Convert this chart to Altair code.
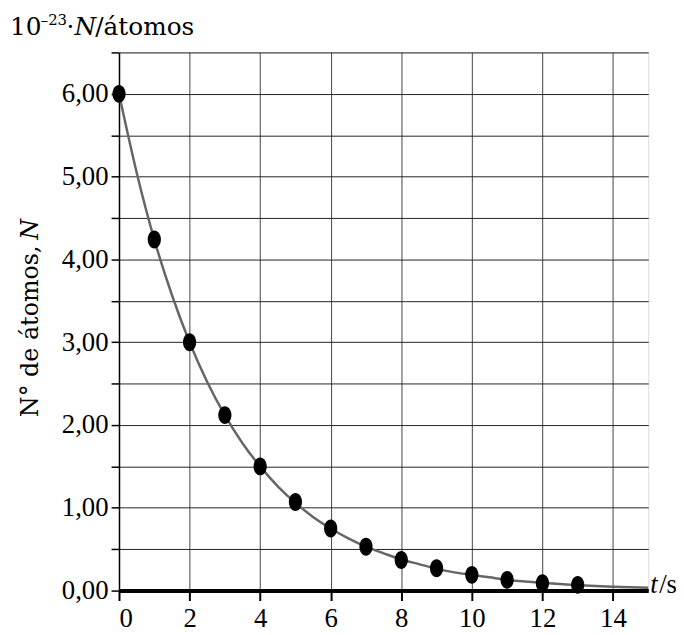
import altair as alt
import pandas as pd

# measured points (t in s, N in 10^23 atoms)
t_points = [0, 1, 2, 3, 4, 5, 6, 7, 8, 9, 10, 11, 12, 13]
n_points = [6.00, 4.24, 3.00, 2.12, 1.50, 1.07, 0.75, 0.53, 0.37, 0.27, 0.19, 0.13, 0.09, 0.07]

# fitted curve
t_curve = [0, 0.5, 1, 1.5, 2, 2.5, 3, 3.5, 4, 4.5, 5, 5.5, 6, 6.5, 7, 7.5, 8, 8.5,
           9, 9.5, 10, 10.5, 11, 11.5, 12, 12.5, 13, 13.5, 14, 14.5, 15]
n_curve = [6.00, 5.05, 4.24, 3.57, 3.00, 2.52, 2.12, 1.78, 1.50, 1.26, 1.06, 0.89,
           0.75, 0.63, 0.53, 0.45, 0.375, 0.32, 0.265, 0.22, 0.19, 0.16, 0.13, 0.11,
           0.094, 0.08, 0.066, 0.055, 0.047, 0.04, 0.033]

x_ticks = list(range(0, 16))
y_ticks = [i * 0.5 for i in range(0, 14)]

pts = pd.DataFrame({"t": t_points, "N": n_points})
crv = pd.DataFrame({"t": t_curve, "N": n_curve})

W, H = 534, 543
xs = alt.Scale(domain=[0, 15], nice=False, zero=True)
ys = alt.Scale(domain=[0, 6.5], nice=False, zero=True)

xaxis = alt.Axis(values=x_ticks, title=None, grid=True, gridColor="#444", gridWidth=1,
                 domainColor="black", domainWidth=4, tickColor="black", tickWidth=2,
                 tickSize=10, labelFont="Liberation Serif", labelFontSize=27,
                 labelColor="black", labelPadding=5,
                 labelExpr="datum.value % 2 == 0 ? datum.label : ''")
yaxis = alt.Axis(values=y_ticks, title=None, grid=True, gridColor="#222", gridWidth=1,
                 domainColor="black", domainWidth=1.5, tickColor="black", tickWidth=1.5,
                 tickSize=8, labelFont="Liberation Serif", labelFontSize=27,
                 labelColor="black", labelPadding=3,
                 labelExpr="datum.value % 1 == 0 ? replace(format(datum.value, '.2f'), '.', ',') : ''")

curve = alt.Chart(crv).mark_line(color="#666", strokeWidth=2.5, interpolate="monotone").encode(
    x=alt.X("t:Q", scale=xs, axis=xaxis),
    y=alt.Y("N:Q", scale=ys, axis=yaxis),
)

ellipse = "M -0.74 0 A 0.74 1 0 1 1 0.74 0 A 0.74 1 0 1 1 -0.74 0 Z"
points = alt.Chart(pts).mark_point(shape=ellipse, filled=True, color="black", opacity=1,
                                    size=324).encode(
    x=alt.X("t:Q", scale=xs),
    y=alt.Y("N:Q", scale=ys),
)

one = pd.DataFrame({"a": [0]})


def txt(text, x, y, size, font, align="left", angle=0, style="normal", baseline="alphabetic"):
    kw = dict(text=text, align=align, baseline=baseline, fontSize=size, font=font,
              fontStyle=style, color="black")
    if angle:
        kw["angle"] = angle
    return alt.Chart(one).mark_text(**kw).encode(x=alt.value(x), y=alt.value(y))


title_font = "DejaVu Serif"
layers = [
    curve, points,
    txt("10", -110, -18, 25, title_font),
    txt("–23", -79, -28, 15, title_font),
    txt("·", -53, -18, 25, title_font),
    txt("N", -45, -18, 25, title_font, style="italic"),
    txt("/átomos", -24, -18, 25, title_font),
    txt("N° de átomos,", -89, 368, 24, title_font, align="left", angle=270, baseline="middle"),
    txt("N", -89, 168, 24, title_font, align="right", angle=270, style="italic", baseline="middle"),
    txt("t", 536, 545, 27, "Liberation Serif", style="italic"),
    txt("/s", 545, 545, 27, "Liberation Serif"),
]

chart = alt.layer(*layers).properties(
    width=W, height=H,
    autosize=alt.AutoSizeParams(type="none"),
    padding={"left": 112, "top": 42, "right": 28, "bottom": 44},
).configure_view(stroke="black", strokeWidth=1.5).configure(background="white")

chart.save("out.html", embed_options={"renderer": "svg", "actions": False})
